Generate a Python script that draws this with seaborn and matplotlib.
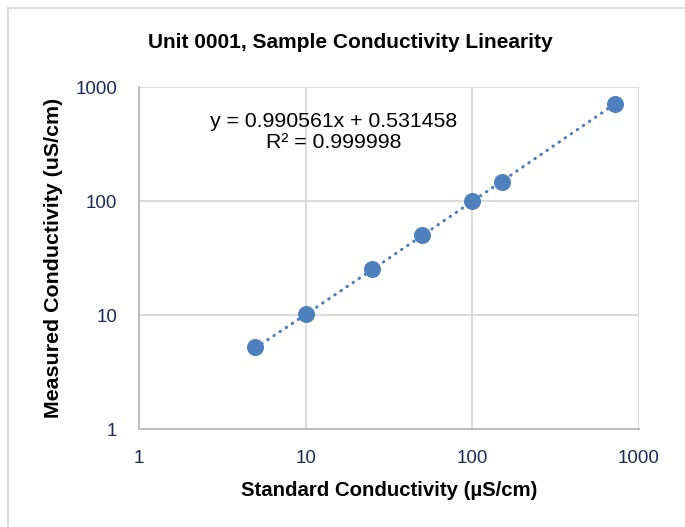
import numpy as np
import pandas as pd
import matplotlib
matplotlib.use("Agg")
import matplotlib.pyplot as plt
import seaborn as sns
from matplotlib.patches import Rectangle

# data
standard = [5, 10, 25, 50, 100, 150, 720]
measured = [5.2, 10.2, 25.1, 50.0, 100.0, 147.0, 713.0]
ticks = [1, 10, 100, 1000]
tick_labels = ["1", "10", "100", "1000"]
equation = "y = 0.990561x + 0.531458"
r_squared = "R² = 0.999998"

df = pd.DataFrame({"standard": standard, "measured": measured})

sns.set_theme(style="white")
plt.rcParams['font.family'] = ['Liberation Sans', 'DejaVu Sans']

BLUE = "#4e80bd"
NAVY = "#1c2a5a"

fig = plt.figure(figsize=(6.85, 5.27), dpi=100)
fig.patch.set_facecolor("white")
ax = fig.add_axes([139 / 685, 1 - 429 / 527, 500 / 685, 342 / 527])

# chart border (cropped at right / bottom)
fig.patches.append(Rectangle((8 / 685, -0.1), 1.2, 1 - 8 / 527 + 0.1,
                             transform=fig.transFigure, fill=False,
                             edgecolor="#d9d9d9", linewidth=1.3, zorder=0))

# linear trendline fitted in data space, as Excel does
slope, intercept = np.polyfit(df.standard, df.measured, 1)
xs = np.linspace(min(standard), max(standard), 400)
ax.plot(xs, slope * xs + intercept, color=BLUE, linewidth=2.2,
        linestyle=(0, (0.2, 2.2)), dash_capstyle="round", zorder=2)

sns.scatterplot(data=df, x="standard", y="measured", ax=ax, s=150,
                color=BLUE, edgecolor=BLUE, linewidth=0, zorder=3)

ax.set_xscale("log")
ax.set_yscale("log")
ax.set_xlim(1, 1000)
ax.set_ylim(1, 1000)
ax.set_xticks(ticks)
ax.set_xticklabels(tick_labels)
ax.set_yticks(ticks)
ax.set_yticklabels(tick_labels)
ax.minorticks_off()
ax.tick_params(axis="both", length=0, labelsize=13.5, labelcolor=NAVY)
ax.tick_params(axis="x", pad=15)
ax.tick_params(axis="y", pad=15.5)
ax.grid(True, color="#d9d9d9", linewidth=1.3)
ax.set_axisbelow(True)
for side in ["top", "right"]:
    ax.spines[side].set_visible(False)
for side in ["left", "bottom"]:
    ax.spines[side].set_color("#bfbfbf")
    ax.spines[side].set_linewidth(1.5)

ax.set_xlabel("Standard Conductivity (µS/cm)", fontsize=14.7,
              fontweight="bold", color="black", va="center")
ax.set_ylabel("Measured Conductivity (uS/cm)", fontsize=15.4,
              fontweight="bold", color="black", va="center")
ax.xaxis.set_label_coords(0.5, -(490 - 429) / 342)
ax.yaxis.set_label_coords((54 - 139) / 500, 0.5)

fig.text(350 / 685, 1 - 43 / 527, "Unit 0001, Sample Conductivity Linearity",
         ha="center", va="center", fontsize=15, fontweight="bold",
         color="black")
fig.text(334 / 685, 1 - 132 / 527, equation + "\n" + r_squared,
         ha="center", va="center", fontsize=15.3, linespacing=1.08,
         color="black")

fig.savefig("out.png", dpi=100, facecolor="white")
